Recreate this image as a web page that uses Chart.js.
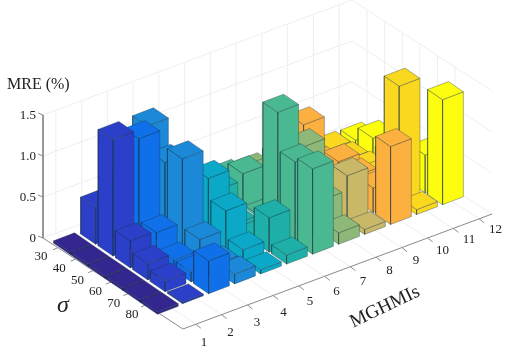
<!DOCTYPE html>
<html>
<head>
<meta charset="utf-8">
<style>
  html, body { margin: 0; padding: 0; background: #fff; }
  canvas { display: block; }
</style>
<script src="https://cdn.jsdelivr.net/npm/chart.js@4"></script>
</head>
<body>
<canvas id="mre" width="510" height="354"></canvas>
<script>
// categories and tick labels
const mghmis = ['1', '2', '3', '4', '5', '6', '7', '8', '9', '10', '11', '12'];
const sigmas = ['30', '40', '50', '60', '70', '80'];
const zTicks = [0, 0.5, 1.0, 1.5];
const zTickLabels = ['0', '0.5', '1.0', '1.5'];

// MRE (%) per sigma, one value per MGHMI (hidden bars are estimates)
const mre30 = [0.03, 0.45, 0.60, 1.20, 0.30, 0.25, 0.21, 0.17, 0.20, 0.49, 0.07, 0.06];
const mre40 = [0.03, 1.42, 1.31, 0.90, 0.30, 0.32, 0.40, 0.30, 0.25, 0.15, 0.09, 0.23];
const mre50 = [0.03, 0.33, 0.31, 1.09, 0.73, 0.05, 0.03, 0.20, 0.20, 0.33, 0.12, 0.15];
const mre60 = [0.03, 0.20, 0.12, 0.25, 0.48, 0.03, 1.44, 0.90, 0.20, 0.30, 0.20, 0.30];
const mre70 = [0.03, 0.13, 0.12, 0.10, 0.15, 0.42, 0.98, 0.39, 0.57, 0.30, 1.42, 0.46];
const mre80 = [0.03, 0.02, 0.40, 0.12, 0.05, 0.11, 1.04, 0.14, 0.06, 0.95, 0.06, 1.28];
const mreBySigma = [mre30, mre40, mre50, mre60, mre70, mre80];

const barColors = ['#33268f', '#2b3fc8', '#1070ea', '#1c88d8', '#0ba8c8', '#1eb0a8',
                   '#4ab890', '#8db878', '#c8b868', '#fcb040', '#fad820', '#fdfd10'];

// view: oblique projection of (mghmi index, sigma index, mre) to canvas units
const zScale = 82;
function project(i, j, z) {
    return {
        x: 72.5 + 26 * i + 17.4 * j,
        y: 245 - 9.9 * i + 11.9 * j - zScale * z
    };
}
// the axes box has its own corners
const boxLeft = { x: 43, y: 238 };
const boxXVec = { x: 309, y: -115 };
const boxYVec = { x: 140, y: 91 };
function box(fx, fy, z) {
    return {
        x: boxLeft.x + boxXVec.x * fx + boxYVec.x * fy,
        y: boxLeft.y + boxXVec.y * fx + boxYVec.y * fy - zScale * z
    };
}
const fracX = i => (i + 0.5) / 12;
const fracY = j => (j + 0.85) / 7.95;

const layers = [];
function addLine(points, color, width) {
    layers.push({
        data: points, showLine: true, fill: false, borderColor: color,
        borderWidth: width, pointRadius: 0, tension: 0, clip: false
    });
}
function addFace(points, color) {
    layers.push({
        data: points.concat([points[0]]), showLine: true, fill: 'shape', backgroundColor: color,
        borderColor: 'rgba(25,50,60,0.5)', borderWidth: 0.7, pointRadius: 0, tension: 0,
        borderJoinStyle: 'round', clip: false
    });
}

// grid on the two walls and the floor
const gridColor = '#eeeeee';
zTicks.forEach(z => {
    addLine([box(0, 0, z), box(1, 0, z), box(1, 1, z)], gridColor, 1);
});
mghmis.forEach((m, i) => {
    addLine([box(fracX(i), 1, 0), box(fracX(i), 0, 0), box(fracX(i), 0, 1.5)], gridColor, 1);
});
sigmas.forEach((s, j) => {
    addLine([box(0, fracY(j), 0), box(1, fracY(j), 0), box(1, fracY(j), 1.5)], gridColor, 1);
});

// axis lines and ticks
const axisColor = '#8a8a8a';
addLine([box(0, 0, 1.5), box(0, 0, 0), box(0, 1, 0), box(1, 1, 0)], axisColor, 1);
zTicks.forEach(z => {
    const p = box(0, 0, z);
    addLine([p, { x: p.x - 5, y: p.y - 2 }], axisColor, 1);
});
mghmis.forEach((m, i) => {
    const p = box(fracX(i), 1, 0);
    addLine([p, { x: p.x + 5, y: p.y + 4 }], axisColor, 1);
});
sigmas.forEach((s, j) => {
    const p = box(0, fracY(j), 0);
    addLine([p, { x: p.x - 5, y: p.y + 2 }], axisColor, 1);
});

// bars, painted from the back corner to the viewer
const halfX = 0.4;
for (let i = mghmis.length - 1; i >= 0; i--) {
    // the first row sits almost shoulder to shoulder in the picture
    const halfY = i === 0 ? 0.48 : 0.43;
    sigmas.forEach((s, j) => {
        const z = mreBySigma[j][i];
        const left = h => project(i - halfX, j - halfY, h);
        const front = h => project(i - halfX, j + halfY, h);
        const right = h => project(i + halfX, j + halfY, h);
        const back = h => project(i + halfX, j - halfY, h);
        addFace([left(0), front(0), front(z), left(z)], barColors[i]);
        addFace([front(0), right(0), right(z), front(z)], barColors[i]);
        addFace([left(z), front(z), right(z), back(z)], barColors[i]);
    });
}

// text drawn on top of the chart
const textPlugin = {
    id: 'axisText',
    afterDraw(chart) {
        const ctx = chart.ctx;
        const sx = chart.scales.x, sy = chart.scales.y;
        ctx.save();
        ctx.fillStyle = '#222';
        ctx.textBaseline = 'middle';
        ctx.textAlign = 'center';
        ctx.font = '13px "Liberation Serif"';
        mghmis.forEach((m, i) => {
            ctx.fillText(m, sx.getPixelForValue(204 + 26.5 * i), sy.getPixelForValue(343 - 10.3 * i));
        });
        sigmas.forEach((s, j) => {
            ctx.fillText(s, sx.getPixelForValue(41 + 18.2 * j), sy.getPixelForValue(257 + 11.6 * j));
        });
        ctx.textAlign = 'right';
        zTicks.forEach((z, k) => {
            const p = box(0, 0, z);
            ctx.fillText(zTickLabels[k], sx.getPixelForValue(p.x - 7), sy.getPixelForValue(p.y + 1));
        });
        ctx.textAlign = 'left';
        ctx.font = '16px "Liberation Serif"';
        ctx.fillText('MRE (%)', 7, 85);
        ctx.textAlign = 'center';
        ctx.font = 'italic 24px "Liberation Serif"';
        ctx.fillText('σ', 63, 306);
        ctx.translate(385, 307);
        ctx.rotate(-25.5 * Math.PI / 180);
        ctx.font = '19px "Liberation Serif"';
        ctx.fillText('MGHMIs', 0, 0);
        ctx.restore();
    }
};

// first dataset ends up on top in Chart.js, so reverse the paint order
new Chart(document.getElementById('mre').getContext('2d'), {
    type: 'scatter',
    data: { datasets: layers.slice().reverse() },
    options: {
        responsive: false,
        animation: false,
        events: [],
        layout: { padding: 0 },
        scales: {
            x: { type: 'linear', min: 0, max: 510, display: false },
            y: { type: 'linear', min: 0, max: 354, reverse: true, display: false }
        },
        plugins: {
            legend: { display: false },
            tooltip: { enabled: false },
            filler: { propagate: false }
        }
    },
    plugins: [textPlugin]
});
</script>
</body>
</html>
